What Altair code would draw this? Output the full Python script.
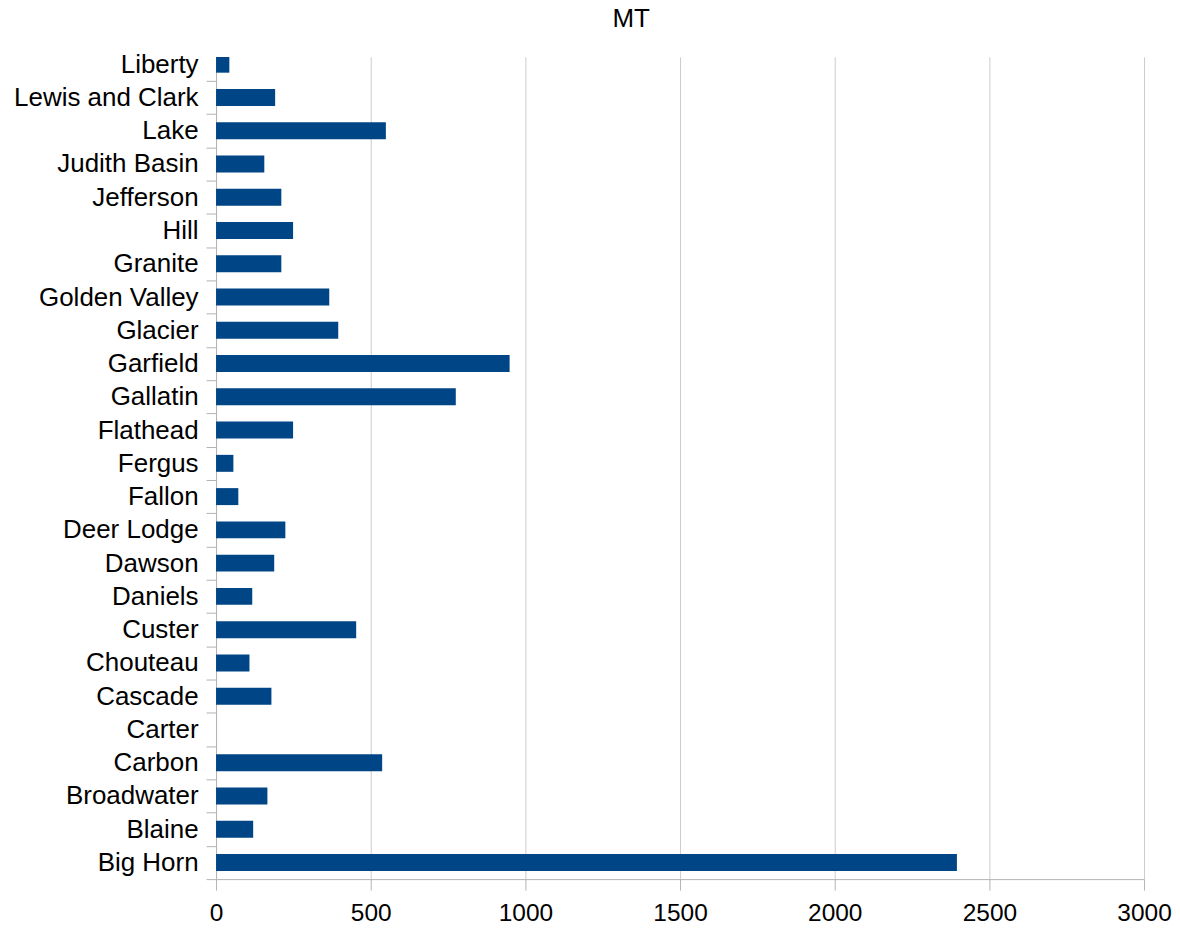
import json
import altair as alt
import pandas as pd

counties = ["Big Horn", "Blaine", "Broadwater", "Carbon", "Carter", "Cascade",
            "Chouteau", "Custer", "Daniels", "Dawson", "Deer Lodge", "Fallon",
            "Fergus", "Flathead", "Gallatin", "Garfield", "Glacier",
            "Golden Valley", "Granite", "Hill", "Jefferson", "Judith Basin",
            "Lake", "Lewis and Clark", "Liberty"]
values = [2395, 120, 166, 537, 0, 179, 108, 453, 117, 188, 224, 72, 56, 249,
          775, 949, 395, 366, 211, 249, 211, 156, 549, 191, 43]
x_ticks = [0, 500, 1000, 1500, 2000, 2500, 3000]

df = pd.DataFrame({"county": counties, "value": values,
                   "idx": list(range(len(counties)))})

FONT = "Liberation Sans"
FS = 26
XFS = 24.5
W, H = 930, 824
step = H / 24.72
label_expr = json.dumps(counties) + "[datum.value]"

bars = alt.Chart(df).transform_calculate(
    y0="datum.idx - 0.255", y1="datum.idx + 0.255", zero="0"
).mark_bar(color="#004586", clip=True).encode(
    x=alt.X("value:Q",
            scale=alt.Scale(domain=[0, 3000], nice=False, zero=True),
            axis=alt.Axis(values=x_ticks, format="d", grid=True, gridColor="#cccccc",
                          domainColor="#b3b3b3", tickColor="#b3b3b3",
                          tickSize=11, labelFontSize=XFS, labelFont=FONT,
                          labelColor="#000000", labelPadding=11,
                          labelFlush=False, title=None)),
    x2="zero:Q",
    y=alt.Y("y0:Q",
            scale=alt.Scale(domain=[-0.5, 24.22], nice=False, zero=False),
            axis=alt.Axis(values=list(range(len(counties))), labelExpr=label_expr,
                          grid=False, domainColor="#b3b3b3", tickColor="#b3b3b3",
                          tickSize=10, tickOffset=step / 2, labelOffset=-step / 2,
                          labelFontSize=FS, labelFont=FONT, labelColor="#000000",
                          labelPadding=8, labelOverlap=False, labelLimit=400,
                          title=None)),
    y2="y1:Q",
)

chart = bars.properties(
    width=W, height=H,
    padding={"left": 5.5, "top": -3, "right": 0, "bottom": 0},
    title=alt.TitleParams("MT", font=FONT, fontSize=FS, fontWeight="normal",
                          color="#000000", anchor="middle", dx=-49, offset=19),
).configure_view(stroke="transparent")

chart.save("out.html", embed_options={"renderer": "svg", "actions": False})
